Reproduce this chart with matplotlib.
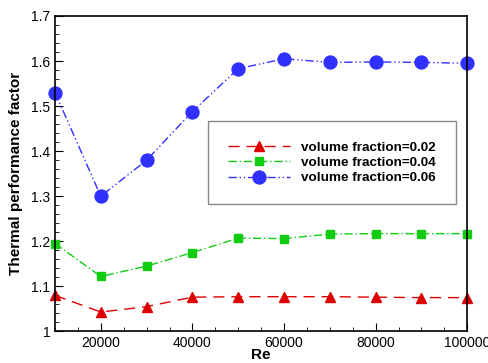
import matplotlib
matplotlib.use("Agg")
import matplotlib.pyplot as plt
from matplotlib.ticker import MultipleLocator

plt.rcParams['font.family'] = ['Liberation Sans', 'DejaVu Sans']

re_vals = [10000, 20000, 30000, 40000, 50000, 60000, 70000, 80000, 90000, 100000]
tpf_002 = [1.080, 1.043, 1.055, 1.076, 1.077, 1.077, 1.077, 1.076, 1.075, 1.075]
tpf_004 = [1.195, 1.122, 1.145, 1.175, 1.207, 1.206, 1.216, 1.217, 1.217, 1.217]
tpf_006 = [1.530, 1.300, 1.380, 1.488, 1.583, 1.605, 1.597, 1.598, 1.597, 1.595]
labels = ['volume fraction=0.02', 'volume fraction=0.04', 'volume fraction=0.06']

fig = plt.figure(figsize=(4.89, 3.63), dpi=100)
ax = fig.add_axes([0.1125, 0.087, 0.843, 0.869])

ax.plot(re_vals, tpf_002, color='#dd0000', linestyle=(0, (8, 5)), lw=1.0,
        marker='^', markersize=7.5, label=labels[0], clip_on=False)
ax.plot(re_vals, tpf_004, color='#11cc11', linestyle=(0, (6, 2, 1, 2)), lw=1.0,
        marker='s', markersize=6.2, label=labels[1], clip_on=False)
ax.plot(re_vals, tpf_006, color='#3030ff', linestyle=(0, (6, 2, 1, 2, 1, 2)), lw=1.0,
        marker='o', markersize=9.3, label=labels[2], clip_on=False)

ax.set_xlim(10000, 100000)
ax.set_ylim(1.0, 1.7)
ax.xaxis.set_minor_locator(MultipleLocator(5000))
ax.yaxis.set_minor_locator(MultipleLocator(0.02))
ax.set_xticks([20000, 40000, 60000, 80000, 100000])
ax.set_yticks([1.0, 1.1, 1.2, 1.3, 1.4, 1.5, 1.6, 1.7])
ax.set_yticklabels(['1', '1.1', '1.2', '1.3', '1.4', '1.5', '1.6', '1.7'])
ax.tick_params(which='both', direction='in', labelsize=10)
ax.tick_params(which='major', length=6)
ax.tick_params(which='minor', length=3)
ax.tick_params(axis='x', pad=3)
for s in ax.spines.values():
    s.set_linewidth(1.2)

ax.set_xlabel('Re', fontsize=11, fontweight='bold', labelpad=-1)
ax.set_ylabel('Thermal performance factor', fontsize=11, fontweight='bold', labelpad=6)

leg = ax.legend(loc='upper left', bbox_to_anchor=(0.371, 0.666),
                prop={'weight': 'bold', 'size': 9.7}, handlelength=4.6,
                handletextpad=0.8, labelspacing=0.2, borderpad=1.5,
                fancybox=False, framealpha=1, edgecolor='#888888',
                borderaxespad=0)
leg.get_frame().set_linewidth(1.0)

fig.savefig('out.png', dpi=100)
